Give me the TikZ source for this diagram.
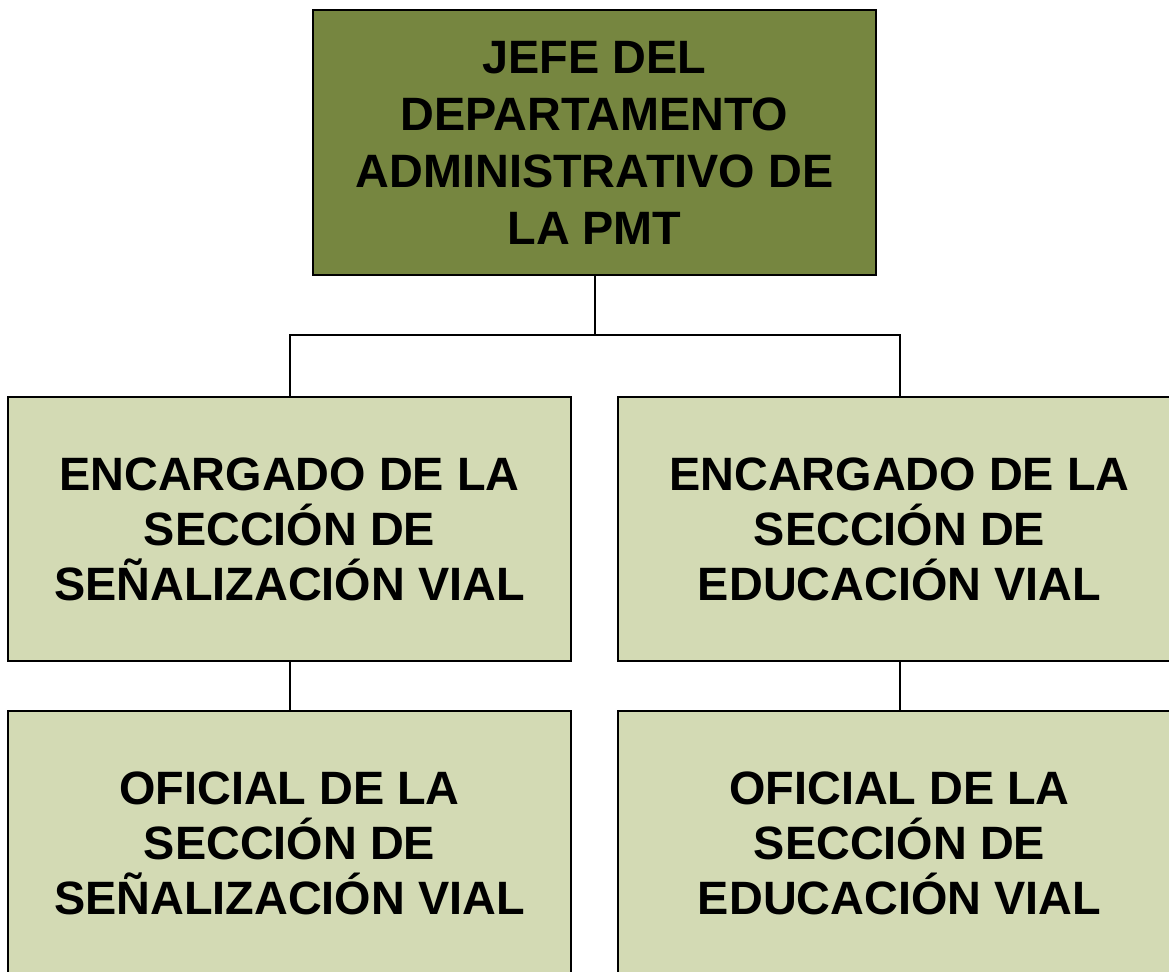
\documentclass[tikz,border=0pt]{standalone}
\usepackage{fontspec}
\setmainfont{Liberation Sans}

\definecolor{jefeverde}{RGB}{118,134,64}
\definecolor{seccverde}{RGB}{211,218,180}

\tikzset{
    puesto/.style={draw=black, line width=1pt, rectangle, align=center,
        minimum width=281.5pt, minimum height=132pt, inner sep=0pt},
    jefebox/.style={puesto, fill=jefeverde,
        font=\fontsize{23.4pt}{28.5pt}\selectfont\bfseries},
    seccbox/.style={puesto, fill=seccverde,
        font=\fontsize{23.4pt}{27.5pt}\selectfont\bfseries},
    enlace/.style={draw=black, line width=1pt}
}

\begin{document}
\begin{tikzpicture}[x=0.5pt, y=-0.5pt]
    \clip (0,0) rectangle (1169,971);
    \fill[white] (0,0) rectangle (1169,971);

    \node[jefebox, minimum height=132.5pt] (jefe) at (594.5,142.5)
        {JEFE DEL\\DEPARTAMENTO\\ADMINISTRATIVO DE\\LA PMT};
    \node[seccbox] (encSen) at (289.5,529)
        {ENCARGADO DE LA\\SECCIÓN DE\\SEÑALIZACIÓN VIAL};
    \node[seccbox] (encEdu) at (899.5,529)
        {ENCARGADO DE LA\\SECCIÓN DE\\EDUCACIÓN VIAL};
    \node[seccbox] (ofiSen) at (289.5,843)
        {OFICIAL DE LA\\SECCIÓN DE\\SEÑALIZACIÓN VIAL};
    \node[seccbox] (ofiEdu) at (899.5,843)
        {OFICIAL DE LA\\SECCIÓN DE\\EDUCACIÓN VIAL};

    \coordinate (reparto) at (594.5,335);
    \draw[enlace] (jefe.south) -- (reparto) -| (encSen.north);
    \draw[enlace] (reparto) -| (encEdu.north);
    \draw[enlace] (encSen.south) -- (ofiSen.north);
    \draw[enlace] (encEdu.south) -- (ofiEdu.north);
\end{tikzpicture}
\end{document}
